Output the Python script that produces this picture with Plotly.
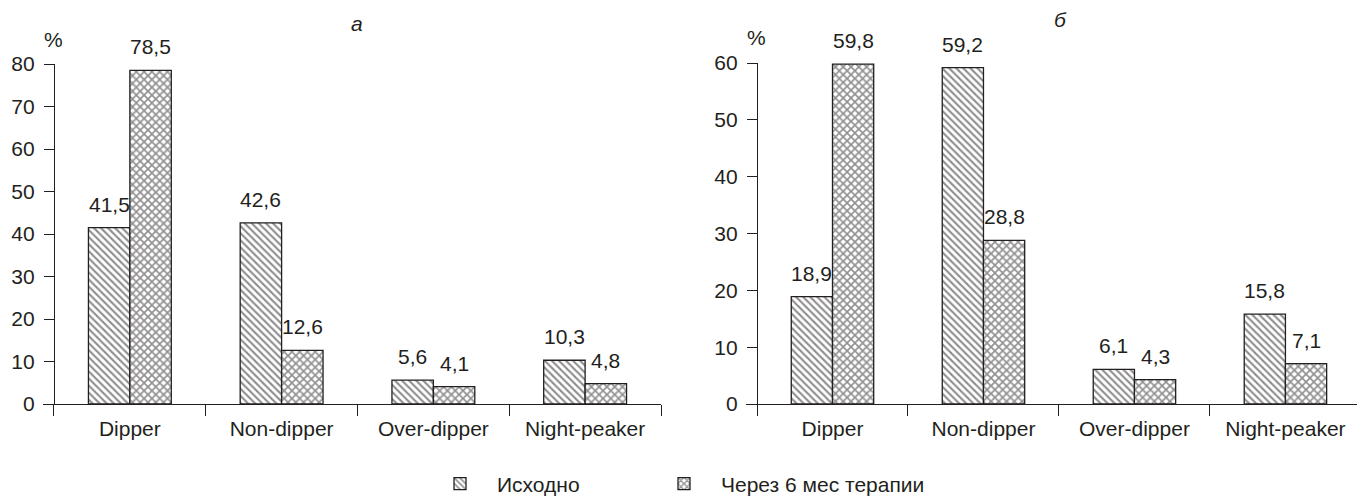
import plotly.graph_objects as go

categories = ["Dipper", "Non-dipper", "Over-dipper", "Night-peaker"]
series_names = ["Исходно", "Через 6 мес терапии"]

# Panel "а"
a_baseline = [41.5, 42.6, 5.6, 10.3]
a_after = [78.5, 12.6, 4.1, 4.8]
# Panel "б"
b_baseline = [18.9, 59.2, 6.1, 15.8]
b_after = [59.8, 28.8, 4.3, 7.1]

a_yticks = [0, 10, 20, 30, 40, 50, 60, 70, 80]
b_yticks = [0, 10, 20, 30, 40, 50, 60]

W, H = 1357, 497
INK = "#231f20"
FONT = "Liberation Sans, Arial, sans-serif"
FS = 21

def px_x(p):
    return p / W

def px_y(p):
    return (H - p) / H

fig = go.Figure()

patterns = [dict(shape="\\", size=5, solidity=0.42, fgcolor=INK, bgcolor="white"),
            dict(shape="x", size=5.5, solidity=0.5, fgcolor=INK, bgcolor="white")]
legend_ids = ["legend", "legend2"]

panels = [("x", "y", [a_baseline, a_after]), ("x2", "y2", [b_baseline, b_after])]
for pi, (xa, ya, data) in enumerate(panels):
    for si, vals in enumerate(data):
        fig.add_trace(go.Bar(
            x=categories, y=vals, name=series_names[si],
            xaxis=xa, yaxis=ya, offsetgroup=str(si),
            marker=dict(color="white", pattern=patterns[si],
                        line=dict(color=INK, width=1.3)),
            showlegend=(pi == 0), legendgroup=str(si), legend=legend_ids[si],
            hoverinfo="skip",
        ))

# value labels above bars
BW = 41.5
annotations = []
for xa, ya, data in panels:
    for si, vals in enumerate(data):
        for c, v in zip(categories, vals):
            annotations.append(dict(
                x=c, y=v, xref=xa, yref=ya, text=f"{v:.1f}".replace(".", ","),
                showarrow=False, yanchor="bottom", xanchor="center",
                xshift=(-BW / 2 if si == 0 else BW / 2),
                yshift=10, font=dict(family=FONT, size=FS, color=INK)))

# panel letters and % labels
def paper_text(txt, px, py):
    return dict(x=px_x(px), y=px_y(py), xref="paper", yref="paper", text=txt,
                xanchor="center", yanchor="middle", showarrow=False,
                font=dict(family=FONT, size=FS, color=INK))

annotations += [
    paper_text("<i>а</i>", 357, 24),
    paper_text("<i>б</i>", 1060, 19),
    paper_text("%", 54, 40),
    paper_text("%", 757, 38),
]

xcommon = dict(type="category", showline=True, linecolor=INK, linewidth=1.3,
               ticks="outside", tickson="boundaries", ticklen=11, tickcolor=INK,
               tickwidth=1.3, showgrid=False, zeroline=False, fixedrange=True,
               automargin=False, ticklabelstandoff=6,
               tickfont=dict(family=FONT, size=FS, color=INK))
ycommon = dict(showline=True, linecolor=INK, linewidth=1.3, ticks="outside",
               ticklen=10, tickcolor=INK, tickwidth=1.3, showgrid=False,
               zeroline=False, anchor="free", fixedrange=True, automargin=False,
               ticklabelstandoff=5,
               tickfont=dict(family=FONT, size=FS, color=INK))

legcommon = dict(orientation="h", xanchor="left", y=px_y(484), yanchor="middle",
                 itemwidth=64, font=dict(family=FONT, size=FS, color=INK),
                 bgcolor="rgba(0,0,0,0)")

fig.update_layout(
    width=W, height=H,
    margin=dict(l=0, r=0, t=0, b=0, autoexpand=False),
    plot_bgcolor="white", paper_bgcolor="white",
    barmode="group", bargap=0.454, bargroupgap=0,
    font=dict(family=FONT, size=FS, color=INK),
    xaxis=dict(**xcommon, domain=[px_x(43), px_x(661)], range=[-0.5 - 11 / 152, 3.5],
               anchor="y"),
    yaxis=dict(**ycommon, domain=[px_y(404), px_y(64)], range=[0, 80],
               tickvals=a_yticks, position=px_x(54)),
    xaxis2=dict(**xcommon, domain=[px_x(746), 1.0], range=[-0.5 - 11 / 151, 3.474],
                anchor="y2"),
    yaxis2=dict(**ycommon, domain=[px_y(404), px_y(63)], range=[0, 60],
                tickvals=b_yticks, position=px_x(757)),
    legend=dict(**legcommon, x=px_x(423)),
    legend2=dict(**legcommon, x=px_x(647)),
    annotations=annotations,
)

fig.write_html("out.html", config={"displayModeBar": False},
               post_script="document.body.style.margin='0px';document.body.style.overflow='hidden';")
